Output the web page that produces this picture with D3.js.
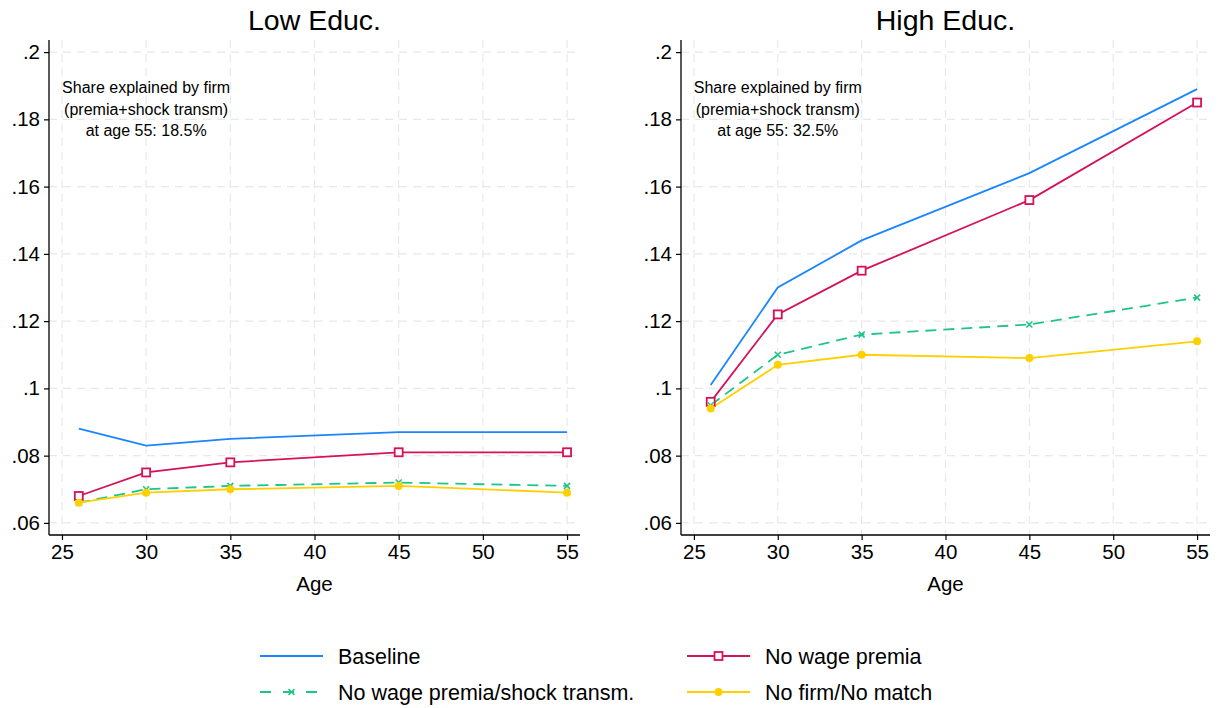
<!DOCTYPE html>
<html>
<head>
<meta charset="utf-8">
<script src="https://cdn.jsdelivr.net/npm/d3@7"></script>
<style>
  body { margin: 0; background: #fff; }
  text { font-family: "Liberation Sans", Arial, sans-serif; fill: #000; }
</style>
</head>
<body>
<svg id="chart" width="1222" height="708"></svg>
<script>
// ages on the x axis
const ages = [26, 30, 35, 45, 55];

// Low education series
const lowBaseline = [0.088, 0.083, 0.085, 0.087, 0.087];
const lowNoPremia = [0.068, 0.075, 0.078, 0.081, 0.081];
const lowNoShock = [0.066, 0.070, 0.071, 0.072, 0.071];
const lowNoFirm = [0.066, 0.069, 0.070, 0.071, 0.069];

// High education series
const highBaseline = [0.101, 0.130, 0.144, 0.164, 0.189];
const highNoPremia = [0.096, 0.122, 0.135, 0.156, 0.185];
const highNoShock = [0.095, 0.110, 0.116, 0.119, 0.127];
const highNoFirm = [0.094, 0.107, 0.110, 0.109, 0.114];

const xTicks = [25, 30, 35, 40, 45, 50, 55];
const yTicks = [0.06, 0.08, 0.1, 0.12, 0.14, 0.16, 0.18, 0.2];
const yTickLabels = ['.06', '.08', '.1', '.12', '.14', '.16', '.18', '.2'];

const seriesNames = ['Baseline', 'No wage premia', 'No wage premia/shock transm.', 'No firm/No match'];
const colors = ['#1a85ff', '#d41159', '#1ec488', '#ffd000'];

const panels = [
  { title: 'Low Educ.', note: 'at age 55: 18.5%', left: 49, right: 580,
    data: [lowBaseline, lowNoPremia, lowNoShock, lowNoFirm] },
  { title: 'High Educ.', note: 'at age 55: 32.5%', left: 681, right: 1210,
    data: [highBaseline, highNoPremia, highNoShock, highNoFirm] }
];

const svg = d3.select('#chart');
const plotTop = 40, plotBottom = 535;

function marker(g, i, x, y) {
  if (i === 1) {
    g.append('rect').attr('x', x - 4).attr('y', y - 4).attr('width', 8).attr('height', 8)
      .attr('fill', '#fff').attr('stroke', colors[i]).attr('stroke-width', 1.8);
  } else if (i === 2) {
    g.append('path').attr('d', `M${x-3},${y-3}L${x+3},${y+3}M${x-3},${y+3}L${x+3},${y-3}`)
      .attr('stroke', colors[i]).attr('stroke-width', 1.6);
  } else if (i === 3) {
    g.append('circle').attr('cx', x).attr('cy', y).attr('r', 4).attr('fill', colors[i]);
  }
}

panels.forEach(p => {
  const x = d3.scaleLinear().domain([24.23, 55.77]).range([p.left, p.right]);
  const y = d3.scaleLinear().domain([0.0564, 0.2036]).range([plotBottom, plotTop]);
  const g = svg.append('g');

  // grid
  g.selectAll('.hg').data(yTicks).enter().append('line')
    .attr('x1', p.left).attr('x2', p.right)
    .attr('y1', d => y(d)).attr('y2', d => y(d))
    .attr('stroke', '#e8e8e8').attr('stroke-width', 1.2).attr('stroke-dasharray', '8,6');
  g.selectAll('.vg').data(xTicks).enter().append('line')
    .attr('x1', d => x(d)).attr('x2', d => x(d))
    .attr('y1', plotTop).attr('y2', plotBottom)
    .attr('stroke', '#e8e8e8').attr('stroke-width', 1.2).attr('stroke-dasharray', '8,6');

  // axes
  const xAxis = d3.axisBottom(x).tickValues(xTicks).tickSize(5).tickPadding(4);
  const yAxis = d3.axisLeft(y).tickValues(yTicks).tickSize(5).tickPadding(4)
    .tickFormat((d, i) => yTickLabels[i]);
  const gx = g.append('g').attr('transform', `translate(0,${plotBottom})`).call(xAxis);
  const gy = g.append('g').attr('transform', `translate(${p.left},0)`).call(yAxis);
  [gx, gy].forEach(a => {
    a.select('.domain').remove();
    a.selectAll('.tick line').attr('stroke', '#000').attr('stroke-width', 1.2);
    a.selectAll('.tick text').attr('font-size', 20.5).attr('font-family', '"Liberation Sans", Arial, sans-serif');
  });
  g.append('line').attr('x1', p.left).attr('x2', p.left).attr('y1', plotTop).attr('y2', plotBottom)
    .attr('stroke', '#000').attr('stroke-width', 1.3);
  g.append('line').attr('x1', p.left).attr('x2', p.right).attr('y1', plotBottom).attr('y2', plotBottom)
    .attr('stroke', '#000').attr('stroke-width', 1.3);

  // titles
  g.append('text').attr('x', (p.left + p.right) / 2).attr('y', 30)
    .attr('text-anchor', 'middle').attr('font-size', 28.5).text(p.title);
  g.append('text').attr('x', (p.left + p.right) / 2).attr('y', 591)
    .attr('text-anchor', 'middle').attr('font-size', 20.5).text('Age');

  // note
  const nx = x(30);
  ['Share explained by firm', '(premia+shock transm)', p.note].forEach((t, k) => {
    g.append('text').attr('x', nx).attr('y', 93 + k * 21.5)
      .attr('text-anchor', 'middle').attr('font-size', 16).text(t);
  });

  // lines
  const line = d3.line().x((d, k) => x(ages[k])).y(d => y(d));
  p.data.forEach((s, i) => {
    g.append('path').datum(s).attr('d', line).attr('fill', 'none')
      .attr('stroke', colors[i]).attr('stroke-width', 1.8)
      .attr('stroke-dasharray', i === 2 ? '11,7' : null);
  });
  p.data.forEach((s, i) => {
    s.forEach((v, k) => marker(g, i, x(ages[k]), y(v)));
  });
});

// legend
const legPos = [[260, 656], [687, 656], [260, 692], [687, 692]];
seriesNames.forEach((name, i) => {
  const [lx, ly] = legPos[i];
  const lg = svg.append('g');
  lg.append('line').attr('x1', lx).attr('x2', lx + 63).attr('y1', ly).attr('y2', ly)
    .attr('stroke', colors[i]).attr('stroke-width', 1.8)
    .attr('stroke-dasharray', i === 2 ? '11,12' : null);
  marker(lg, i, lx + 31.5, ly);
  lg.append('text').attr('x', lx + 78).attr('y', ly + 7.5).attr('font-size', 21.5).text(name);
});
</script>
</body>
</html>
